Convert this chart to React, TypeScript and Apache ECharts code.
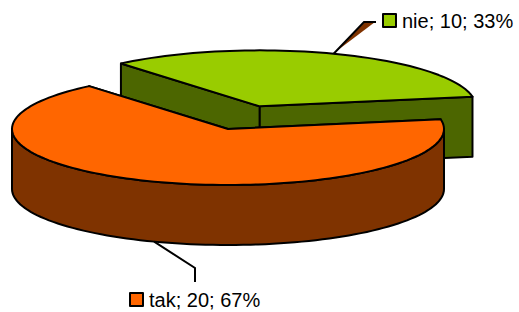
import { useEffect, useRef } from "react";
import * as echarts from "echarts";

const categories = ["nie", "tak"];
const values = [10, 20];
const topColors = ["#99CC00", "#FF6600"];
const sideColors = ["#4C6600", "#7F3300"];
const explode = [0.43, 0];

// layout
const CX = 228, CY = 129, RX = 216, RY = 56, DEPTH = 60;
const START = 130; // math angle (deg) where first slice starts, going clockwise
const KEY_POS = [[383, 14], [130, 293]];
const LEADER_BEND = [[[364, 22], [376, 22]], [[195, 268], [195, 282]]];

function pt(cx: number, cy: number, a: number, dy = 0): number[] {
  const r = (a * Math.PI) / 180;
  return [cx + RX * Math.cos(r), cy - RY * Math.sin(r) + dy];
}
function arc(cx: number, cy: number, a0: number, a1: number, dy: number) {
  const n = Math.max(2, Math.ceil(Math.abs(a1 - a0) / 2));
  const pts: number[][] = [];
  for (let i = 0; i <= n; i++) pts.push(pt(cx, cy, a0 + ((a1 - a0) * i) / n, dy));
  return pts;
}

export default function App() {
  const ref = useRef<HTMLDivElement>(null);
  useEffect(() => {
    const chart = echarts.init(ref.current!, null, { renderer: "svg" });
    const total = values.reduce((s, v) => s + v, 0);
    const stroke = { stroke: "#000", lineWidth: 2, lineJoin: "round" as const };
    chart.setOption({
      animation: false,
      series: [
        {
          type: "custom",
          coordinateSystem: "none",
          data: values.map((v, i) => ({ value: v, name: categories[i] })),
          renderItem: (params: any) => {
            const i = params.dataIndex;
            let a0 = START;
            for (let j = 0; j < i; j++) a0 -= (values[j] / total) * 360;
            const a1 = a0 - (values[i] / total) * 360;
            const mid = (a0 + a1) / 2;
            const mr = (mid * Math.PI) / 180;
            const cx = CX + explode[i] * RX * Math.cos(mr);
            const cy = CY - explode[i] * RY * Math.sin(mr);
            const children: any[] = [];
            // cut faces
            [a0, a1].forEach((a) => {
              const p = pt(cx, cy, a);
              children.push({
                type: "polygon",
                shape: { points: [[cx, cy], p, [p[0], p[1] + DEPTH], [cx, cy + DEPTH]] },
                style: { fill: sideColors[i], ...stroke },
              });
            });
            // outer wall (front visible part)
            for (let k = -2; k <= 2; k++) {
              const lo = Math.max(a1, -180 + 360 * k);
              const hi = Math.min(a0, 360 * k);
              if (hi > lo) {
                children.push({
                  type: "polygon",
                  shape: { points: [...arc(cx, cy, hi, lo, 0), ...arc(cx, cy, lo, hi, DEPTH)] },
                  style: { fill: sideColors[i], ...stroke },
                });
              }
            }
            // top face
            children.push({
              type: "polygon",
              shape: { points: [[cx, cy], ...arc(cx, cy, a0, a1, 0)] },
              style: { fill: topColors[i], ...stroke },
            });
            // leader line
            const front = Math.sin(mr) < 0;
            const s = pt(cx, cy, mid, front ? DEPTH : 0);
            const bend = LEADER_BEND[i];
            if (!front) {
              children.push({
                type: "polygon",
                shape: { points: [[s[0] + 2, s[1] - 2], [bend[0][0] + 1, bend[0][1]], [bend[1][0] - 1, bend[1][1]]] },
                style: { fill: sideColors[1] },
              });
            }
            children.push({
              type: "polyline",
              shape: { points: [s, bend[0], bend[1]] },
              style: { stroke: "#000", lineWidth: 2, fill: null },
            });
            // label key + text
            const [kx, ky] = KEY_POS[i];
            children.push({
              type: "rect",
              shape: { x: kx, y: ky, width: 13, height: 13 },
              style: { fill: topColors[i], ...stroke },
            });
            children.push({
              type: "text",
              x: kx + 19,
              y: ky + 7,
              style: {
                text: `${categories[i]}; ${values[i]}; ${Math.round((values[i] / total) * 100)}%`,
                fill: "#000",
                font: '20px "Liberation Sans", Arial, sans-serif',
                verticalAlign: "middle",
                align: "left",
              },
            });
            return { type: "group", children };
          },
        },
      ],
    });
    return () => chart.dispose();
  }, []);
  return (
    <div
      ref={ref}
      style={{ position: "fixed", left: 0, top: 0, width: 519, height: 312, background: "#fff" }}
    />
  );
}
